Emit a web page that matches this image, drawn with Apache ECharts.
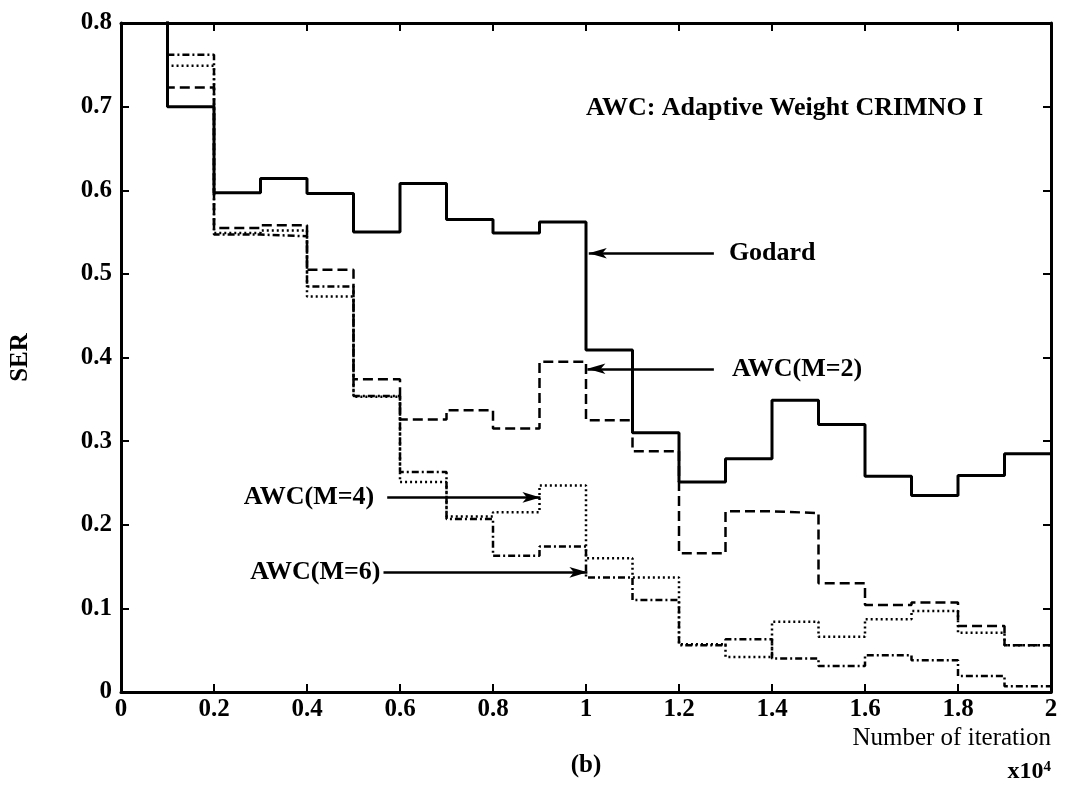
<!DOCTYPE html>
<html>
<head>
<meta charset="utf-8">
<script src="https://cdn.jsdelivr.net/npm/echarts@6/dist/echarts.min.js"></script>
<style>
  html, body { margin: 0; padding: 0; background: #fff; }
  #chart { width: 1068px; height: 787px; }
</style>
</head>
<body>
<div id="chart"></div>
<script>
// Bin edges along the iteration axis (units of 10^4); each value holds over [edge_i, edge_i+1).
const binEdges = [0, 0.1, 0.2, 0.3, 0.4, 0.5, 0.6, 0.7, 0.8, 0.9, 1.0,
                  1.1, 1.2, 1.3, 1.4, 1.5, 1.6, 1.7, 1.8, 1.9, 2.0];

// SER per bin (first bin lies above the plotted range).
const serGodard = [0.85, 0.700, 0.597, 0.614, 0.596, 0.550, 0.608, 0.565, 0.549, 0.562,
                   0.409, 0.310, 0.251, 0.279, 0.349, 0.320, 0.258, 0.235, 0.259, 0.285];
const serAwcM2  = [0.85, 0.723, 0.555, 0.558, 0.505, 0.374, 0.326, 0.337, 0.315, 0.395,
                   0.325, 0.288, 0.166, 0.216, 0.214, 0.130, 0.104, 0.107, 0.079, 0.056];
const serAwcM4  = [0.85, 0.749, 0.549, 0.552, 0.473, 0.353, 0.251, 0.210, 0.215, 0.247,
                   0.160, 0.137, 0.057, 0.042, 0.084, 0.066, 0.087, 0.097, 0.071, 0.056];
const serAwcM6  = [0.85, 0.762, 0.547, 0.545, 0.485, 0.354, 0.263, 0.207, 0.163, 0.174,
                   0.137, 0.110, 0.056, 0.063, 0.040, 0.031, 0.044, 0.038, 0.019, 0.007];

const xTicks = [0, 0.2, 0.4, 0.6, 0.8, 1, 1.2, 1.4, 1.6, 1.8, 2];
const yTicks = [0, 0.1, 0.2, 0.3, 0.4, 0.5, 0.6, 0.7, 0.8];

// Callout labels: text, where the leader line starts, where its arrow points.
const calloutText = ['Godard', 'AWC(M=2)', 'AWC(M=4)', 'AWC(M=6)'];
const calloutFrom = [[1.275, 0.5247], [1.275, 0.3865], [0.5725, 0.2327], [0.5645, 0.1431]];
const calloutTo   = [[1.006, 0.5247], [1.003, 0.3865], [0.902, 0.2327], [1.003, 0.1431]];
const calloutGap  = [15, 18, 13, 3];

const noteText = 'AWC: Adaptive Weight CRIMNO I';
const notePos = [1.0, 0.698];

const FONT = 'Liberation Serif';
const INK = '#000';

function steps(vals) {
  return binEdges.map((x, i) => [x, vals[Math.min(i, vals.length - 1)]]);
}

const chart = echarts.init(document.getElementById('chart'), null, { renderer: 'canvas' });

const tickCommon = { show: true, inside: true, length: 8, lineStyle: { color: INK, width: 2 } };
const lineCommon = { show: true, onZero: false, lineStyle: { color: INK, width: 3 } };

const option = {
  animation: false,
  backgroundColor: '#fff',
  grid: { left: 120, right: 17, top: 23, bottom: 95, show: false },
  xAxis: [
    {
      type: 'value', min: xTicks[0], max: xTicks[xTicks.length - 1], interval: 0.2,
      position: 'bottom',
      axisLine: lineCommon, axisTick: tickCommon,
      splitLine: { show: false },
      axisLabel: { color: INK, fontFamily: FONT, fontSize: 25, fontWeight: 'bold', margin: 5 }
    },
    {
      type: 'value', min: xTicks[0], max: xTicks[xTicks.length - 1], interval: 0.2,
      position: 'top',
      axisLine: lineCommon, axisTick: tickCommon,
      splitLine: { show: false }, axisLabel: { show: false }
    }
  ],
  yAxis: [
    {
      type: 'value', min: yTicks[0], max: yTicks[yTicks.length - 1], interval: 0.1,
      position: 'left',
      name: 'SER', nameLocation: 'middle', nameRotate: 90, nameGap: 88,
      nameTextStyle: { color: INK, fontFamily: FONT, fontSize: 25, fontWeight: 'bold' },
      axisLine: lineCommon, axisTick: tickCommon,
      splitLine: { show: false },
      axisLabel: { color: INK, fontFamily: FONT, fontSize: 25, fontWeight: 'bold', margin: 9 }
    },
    {
      type: 'value', min: yTicks[0], max: yTicks[yTicks.length - 1], interval: 0.1,
      position: 'right',
      axisLine: lineCommon, axisTick: tickCommon,
      splitLine: { show: false }, axisLabel: { show: false }
    }
  ],
  series: [
    {
      name: 'AWC(M=6)', type: 'line', step: 'end', data: steps(serAwcM6),
      showSymbol: false, clip: true,
      lineStyle: { color: INK, width: 2.5, type: [7, 3, 2, 3] }
    },
    {
      name: 'AWC(M=4)', type: 'line', step: 'end', data: steps(serAwcM4),
      showSymbol: false, clip: true,
      lineStyle: { color: INK, width: 2.5, type: [2, 3] }
    },
    {
      name: 'AWC(M=2)', type: 'line', step: 'end', data: steps(serAwcM2),
      showSymbol: false, clip: true,
      lineStyle: { color: INK, width: 2.5, type: [10, 5] }
    },
    {
      name: 'Godard', type: 'line', step: 'end', data: steps(serGodard),
      showSymbol: false, clip: true,
      lineStyle: { color: INK, width: 3, type: 'solid' },
      markLine: {
        silent: true,
        animation: false,
        symbol: ['none', 'arrow'],
        symbolSize: [8, 18],
        lineStyle: { color: INK, width: 2.5, type: 'solid' },
        data: calloutText.map((t, i) => [
          {
            coord: calloutFrom[i],
            label: {
              show: true, formatter: t, position: 'start', distance: calloutGap[i],
              color: INK, fontFamily: FONT, fontSize: 26, fontWeight: 'bold'
            }
          },
          { coord: calloutTo[i] }
        ])
      }
    }
  ]
};

chart.setOption(option);

// Free-standing text: the method note inside the plot, axis caption, panel tag, scale factor.
const np = chart.convertToPixel({ gridIndex: 0 }, notePos);
chart.setOption({
  graphic: [
    {
      type: 'text', x: np[0], y: np[1],
      style: { text: noteText, font: 'bold 26px "' + FONT + '"', fill: INK,
               textAlign: 'left', textVerticalAlign: 'middle' }
    },
    {
      type: 'text', x: 1051, y: 738,
      style: { text: 'Number of iteration', font: '25px "' + FONT + '"', fill: INK,
               textAlign: 'right', textVerticalAlign: 'middle' }
    },
    {
      type: 'text', x: 586, y: 766,
      style: { text: '(b)', font: 'bold 25px "' + FONT + '"', fill: INK,
               textAlign: 'center', textVerticalAlign: 'middle' }
    },
    {
      type: 'text', x: 1051, y: 772,
      style: {
        text: '{b|x10}{s|4}', textAlign: 'right', textVerticalAlign: 'middle',
        rich: {
          b: { fontFamily: FONT, fontSize: 24, fontWeight: 'bold', fill: INK, color: INK },
          s: { fontFamily: FONT, fontSize: 15, fontWeight: 'bold', fill: INK, color: INK, verticalAlign: 'top', padding: [0, 0, 10, 0] }
        }
      }
    }
  ]
});
</script>
</body>
</html>
